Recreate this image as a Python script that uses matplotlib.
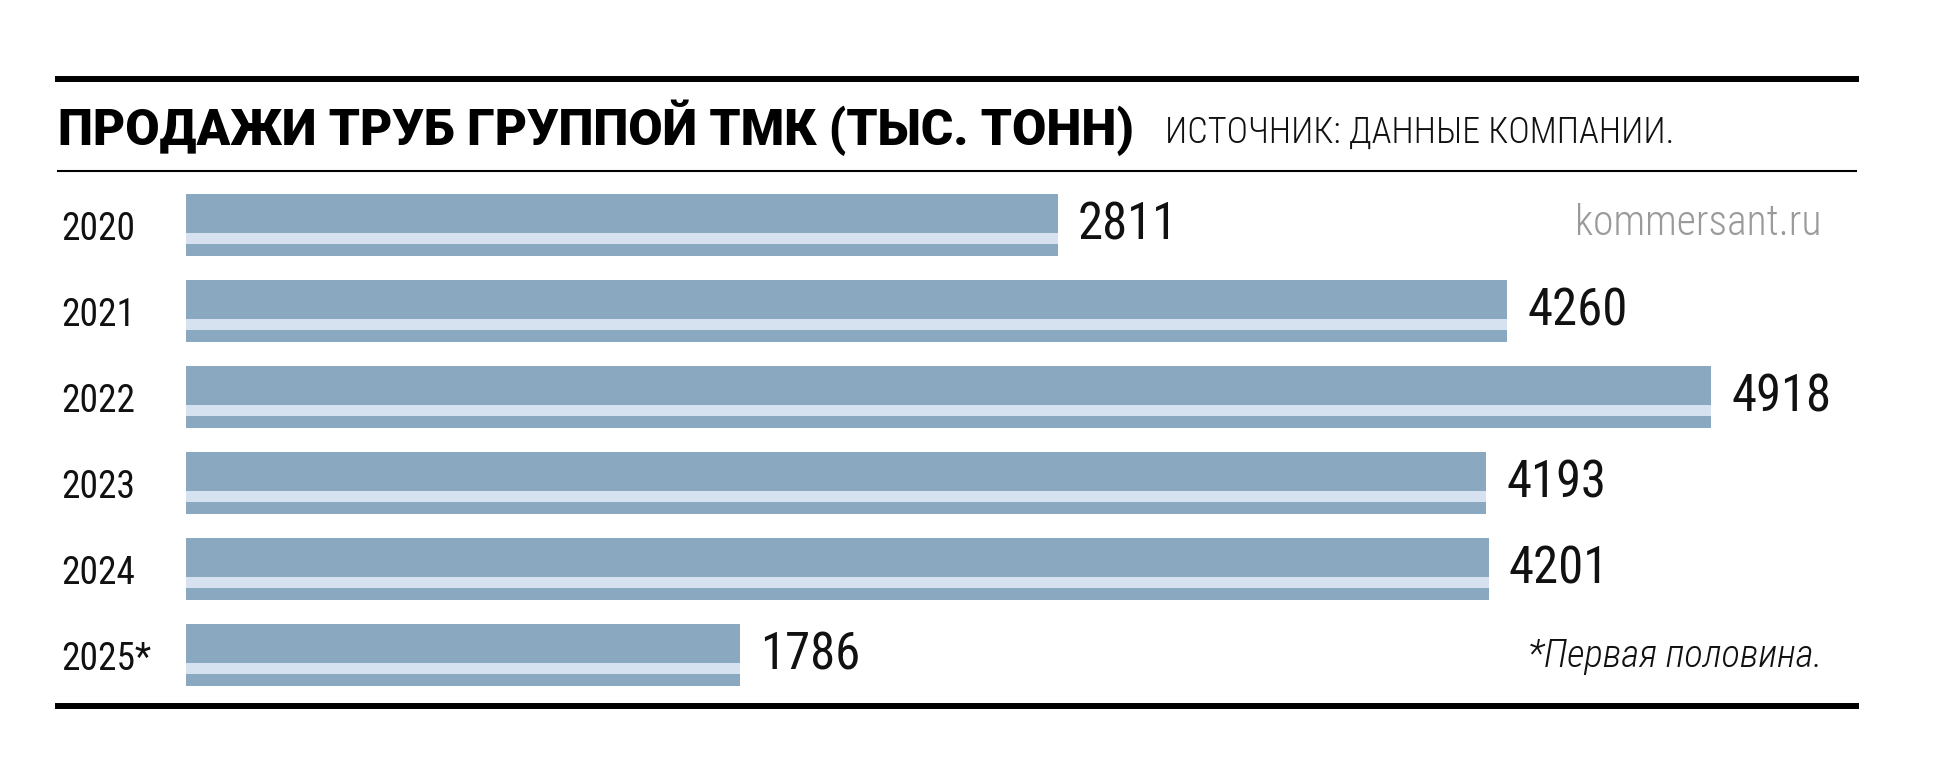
import matplotlib
matplotlib.use("Agg")
import matplotlib.pyplot as plt
from matplotlib import font_manager as fm
from matplotlib.transforms import blended_transform_factory

# --- данные ---
years = ["2020", "2021", "2022", "2023", "2024", "2025*"]
sales = [2811, 4260, 4918, 4193, 4201, 1786]

title = "ПРОДАЖИ ТРУБ ГРУППОЙ ТМК (ТЫС. ТОНН)"
source = "ИСТОЧНИК: ДАННЫЕ КОМПАНИИ."
brand = "kommersant.ru"
note = "*Первая половина."

# condensed fonts, with fallbacks
names = {f.name for f in fm.fontManager.ttflist}


def pick(*cands):
    for c in cands:
        if c in names:
            return c
    return "DejaVu Sans"


cond = pick("Roboto Condensed", "IBM Plex Sans Condensed", "PT Sans Narrow", "Liberation Sans")
heavy = pick("Roboto", "Fira Sans", "Liberation Sans")

W, H = 1934, 784
dark = "#8aa8c0"
light = "#d6e2ef"


def fx(px):
    return px / W


def fy(py):
    return 1 - py / H


fig = plt.figure(figsize=(W / 100, H / 100), dpi=100)
fig.patch.set_facecolor("white")

# bar area: x=0 at 186 px, 0.3101 px per unit
x0_px, x1_px = 186, 1856
scale = 0.3101
ax = fig.add_axes([fx(x0_px), fy(705), fx(x1_px - x0_px), (705 - 171) / H])
ax.set_xlim(0, (x1_px - x0_px) / scale)
pitch = 86.0
ax.set_ylim(5 + 50 / pitch, -54 / pitch)
ax.axis("off")

pos = list(range(len(years)))
bh = 62 / pitch
ax.barh(pos, sales, height=bh, color=dark, linewidth=0)
ax.barh([p + 0.157 for p in pos], sales, height=0.126, color=light, linewidth=0)

for p, v in zip(pos, sales):
    ax.text(v + 20 / scale, p, str(v), va="center", ha="left",
            fontsize=36.5, family=cond, color="#111111")

tr = blended_transform_factory(fig.transFigure, ax.transData)
for p, y in zip(pos, years):
    ax.text(fx(61), p + 0.05, y, transform=tr, va="center", ha="left",
            fontsize=27, family=cond, color="#111111")

# rules
fig.add_artist(plt.Line2D([fx(58), fx(1856)], [fy(79), fy(79)], color="black", lw=4.3))
fig.add_artist(plt.Line2D([fx(58), fx(1856)], [fy(171), fy(171)], color="black", lw=1.5))
fig.add_artist(plt.Line2D([fx(58), fx(1856)], [fy(706), fy(706)], color="black", lw=4.3))

# texts
fig.text(fx(58), fy(145), title, fontsize=35.7, fontweight=900, family=heavy,
         va="baseline", ha="left", color="black")
fig.text(fx(1165), fy(143), source, fontsize=26, fontweight="light", family=cond,
         va="baseline", ha="left", color="#111111")
fig.text(fx(1822), fy(235), brand, fontsize=30, fontweight="light", family=cond,
         va="baseline", ha="right", color="#9a9a9a")
fig.text(fx(1822), fy(667), note, fontsize=28, fontweight="light", family=cond,
         style="italic", va="baseline", ha="right", color="#111111")

fig.savefig("out.png", dpi=100)
